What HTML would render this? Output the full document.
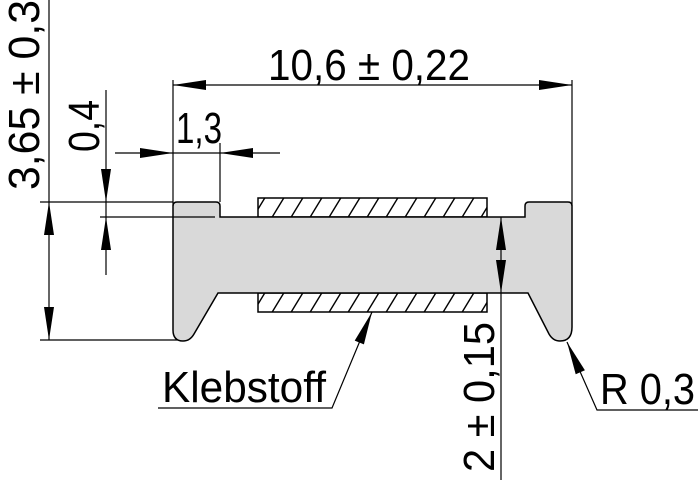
<!DOCTYPE html>
<html><head><meta charset="utf-8"><style>html,body{margin:0;padding:0;background:#fff}svg{display:block}</style></head>
<body>
<svg width="698" height="480" viewBox="0 0 698 480" xmlns="http://www.w3.org/2000/svg" font-family="Liberation Sans, sans-serif" fill="none" stroke="#000" stroke-width="1.5">
<defs>
<pattern id="h" width="19" height="19" patternUnits="userSpaceOnUse" patternTransform="translate(258,198)">
<line x1="-6" y1="21" x2="8" y2="-2" stroke="#000" stroke-width="1.4"/>
<line x1="13" y1="21" x2="27" y2="-2" stroke="#000" stroke-width="1.4"/>
</pattern>
</defs>
<rect x="258" y="198" width="229" height="19" fill="url(#h)"/>
<rect x="258" y="293" width="229" height="19" fill="url(#h)"/>
<path d="M173,206 Q173,202 177,202 L216,202 Q220,202 220,206 L220,217 L525,217 L525,206 Q525,202 529,202 L568,202 Q572,202 572,206 L572,327 Q572,341 560,341 Q553,341 549,334 L528,293 L218,293 L194,334 Q190,341 183,341 Q173,341 173,330 Z" fill="#d9d9d9" stroke="#000"/>
<g stroke-width="1.2">
<line x1="173" y1="80" x2="173" y2="206"/>
<line x1="572" y1="80" x2="572" y2="206"/>
<line x1="220" y1="143" x2="220" y2="202"/>
<line x1="40" y1="202" x2="173" y2="202"/>
<line x1="100" y1="217" x2="215" y2="217"/>
<line x1="40" y1="340" x2="178" y2="340"/>
<line x1="173" y1="85" x2="572" y2="85"/>
<line x1="115" y1="153" x2="280" y2="153"/>
<line x1="106" y1="90" x2="106" y2="275"/>
<line x1="49" y1="0" x2="49" y2="340"/>
<line x1="501" y1="217" x2="501" y2="480"/>
<polyline points="372,312 332,408 158,408"/>
<polyline points="567,342 597,410 698,410"/>
</g>
<g fill="#000" stroke="none">
<polygon points="173,85 206,80 206,90"/>
<polygon points="572,85 539,80 539,90"/>
<polygon points="173,153 140,148 140,158"/>
<polygon points="220,153 253,148 253,158"/>
<polygon points="106,202 101,169 111,169"/>
<polygon points="106,217 101,250 111,250"/>
<polygon points="49,202 44,235 54,235"/>
<polygon points="49,340 44,307 54,307"/>
<polygon points="501,217 496,250 506,250"/>
<polygon points="501,293 496,260 506,260"/>
<polygon points="372,312 363.9,344.4 354.7,340.6"/>
<polygon points="567,342 584.9,370.2 575.7,374.2"/>
</g>
<g fill="#000" stroke="none" font-size="44">
<text x="268" y="80" textLength="202" lengthAdjust="spacingAndGlyphs">10,6 ± 0,22</text>
<text x="176" y="143" textLength="46" lengthAdjust="spacingAndGlyphs">1,3</text>
<text x="162" y="402" textLength="164" lengthAdjust="spacingAndGlyphs">Klebstoff</text>
<text x="600" y="404" textLength="95" lengthAdjust="spacingAndGlyphs">R 0,3</text>
<text transform="translate(39,190) rotate(-90)" textLength="190" lengthAdjust="spacingAndGlyphs">3,65 ± 0,3</text>
<text transform="translate(99,152) rotate(-90)" textLength="52" lengthAdjust="spacingAndGlyphs">0,4</text>
<text transform="translate(494,472) rotate(-90)" textLength="150" lengthAdjust="spacingAndGlyphs">2 ± 0,15</text>
</g>
</svg>
</body></html>
